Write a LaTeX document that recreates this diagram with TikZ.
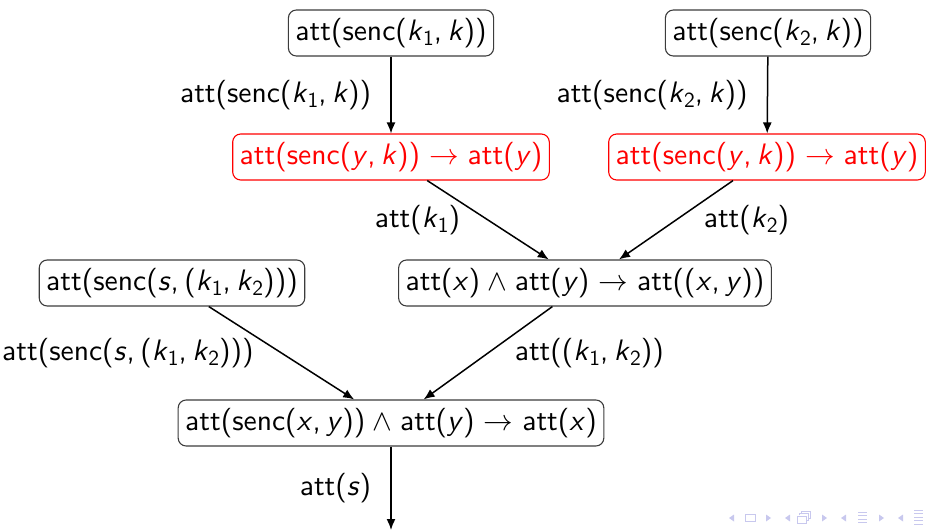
\RequirePackage{fix-cm}
\documentclass[tikz,border=0pt]{standalone}
\usepackage{fontspec}
\setsansfont{lmsans10-regular.otf}[ItalicFont=lmsans10-oblique.otf]
\usetikzlibrary{arrows.meta}
\newcommand\vv[1]{\textit{#1}}
\newcommand\sub[1]{\raisebox{-0.16em}{\fontsize{21.5}{21.5}\selectfont #1}}
\newcommand\cm{,\hspace{5.5pt}}
\newcommand\imp{\hspace{9pt}$\rightarrow$\hspace{9pt}}
\newcommand\aand{\hspace{7.5pt}$\wedge$\hspace{7.5pt}}
\definecolor{navc}{RGB}{200,200,238}
\definecolor{boxgray}{RGB}{60,60,60}
\begin{document}
\begin{tikzpicture}[x=1pt,y=-1pt,
  every node/.style={font=\fontsize{29.6}{34}\selectfont\sffamily},
  bx/.style={draw=boxgray,line width=1.1pt,rounded corners=8pt,fill=white,
    inner xsep=7pt,minimum height=46pt},
  rbx/.style={bx,draw=red,text=red},
  arr/.style={line width=1.5pt,-{Latex[length=11pt,width=9pt]}},
  lbl/.style={inner sep=0pt},
  nav/.style={fill=navc,draw=none},
  navl/.style={draw=navc,line width=1pt}]
\useasboundingbox (0,0) rectangle (926,530);
\node[bx] (A) at (391,33) {att(senc(\vv{k}\sub{1}\cm\vv{k}))};
\node[bx] (B) at (768,33) {att(senc(\vv{k}\sub{2}\cm\vv{k}))};
\node[rbx] (C) at (391,157) {att(senc(\vv{y}\cm\vv{k}))\imp att(\vv{y})};
\node[rbx] (D) at (767,157) {att(senc(\vv{y}\cm\vv{k}))\imp att(\vv{y})};
\node[bx] (E) at (172,283) {att(senc(\vv{s}\cm(\vv{k}\sub{1}\cm\vv{k}\sub{2})))};
\node[bx] (F) at (585,283) {att(\vv{x})\aand att(\vv{y})\imp att((\vv{x}\cm\vv{y}))};
\node[bx] (G) at (391,423) {att(senc(\vv{x}\cm\vv{y}))\aand att(\vv{y})\imp att(\vv{x})};
\coordinate (out) at (391,530);

\draw[arr] (A) -- node[lbl,midway,anchor=east,xshift=-19pt] {att(senc(\vv{k}\sub{1}\cm\vv{k}))} (C);
\draw[arr] (B) -- node[lbl,midway,anchor=east,xshift=-19pt] {att(senc(\vv{k}\sub{2}\cm\vv{k}))} (D);
\draw[arr] (C) -- node[lbl,midway,anchor=east,xshift=-27pt] {att(\vv{k}\sub{1})} (F);
\draw[arr] (D) -- node[lbl,midway,anchor=west,xshift=27pt] {att(\vv{k}\sub{2})} (F);
\draw[arr] (E) -- node[lbl,midway,anchor=east,xshift=-27pt] {att(senc(\vv{s}\cm(\vv{k}\sub{1}\cm\vv{k}\sub{2})))} (G);
\draw[arr] (F) -- node[lbl,midway,anchor=west,xshift=26pt] {att((\vv{k}\sub{1}\cm\vv{k}\sub{2}))} (G);
\draw[arr] (G) -- node[lbl,pos=0.5,anchor=east,xshift=-19pt] {att(\vv{s})} (out);

% beamer navigation symbols
\fill[nav] (729,518) -- (734,514.5) -- (734,521.5) -- cycle;
\draw[navl,line width=0.9pt] (745,514.5) rectangle (755,521);
\fill[nav] (771,518) -- (766,514.5) -- (766,521.5) -- cycle;
\fill[nav] (785,518) -- (790,514.5) -- (790,521.5) -- cycle;
\draw[navl,line width=0.9pt] (797,516) rectangle (806,523);
\draw[navl,line width=0.9pt] (799,514) -- (799,513.5) -- (808,513.5) -- (808,520.5) -- (806,520.5);
\draw[navl,line width=0.9pt] (801,512) -- (801,511.5) -- (810,511.5) -- (810,518.5) -- (808,518.5);
\fill[nav] (827,518) -- (822,514.5) -- (822,521.5) -- cycle;
\fill[nav] (841,518) -- (846,514.5) -- (846,521.5) -- cycle;
\foreach \yy in {512,515.5,519,522.5} \draw[navl,line width=0.9pt] (858,\yy) -- (867,\yy);
\fill[nav] (884,518) -- (879,514.5) -- (879,521.5) -- cycle;
\fill[nav] (898,518) -- (903,514.5) -- (903,521.5) -- cycle;
\foreach \yy in {510,513.5,517,520.5,524} \draw[navl,line width=0.9pt] (914,\yy) -- (923,\yy);
\end{tikzpicture}
\end{document}
